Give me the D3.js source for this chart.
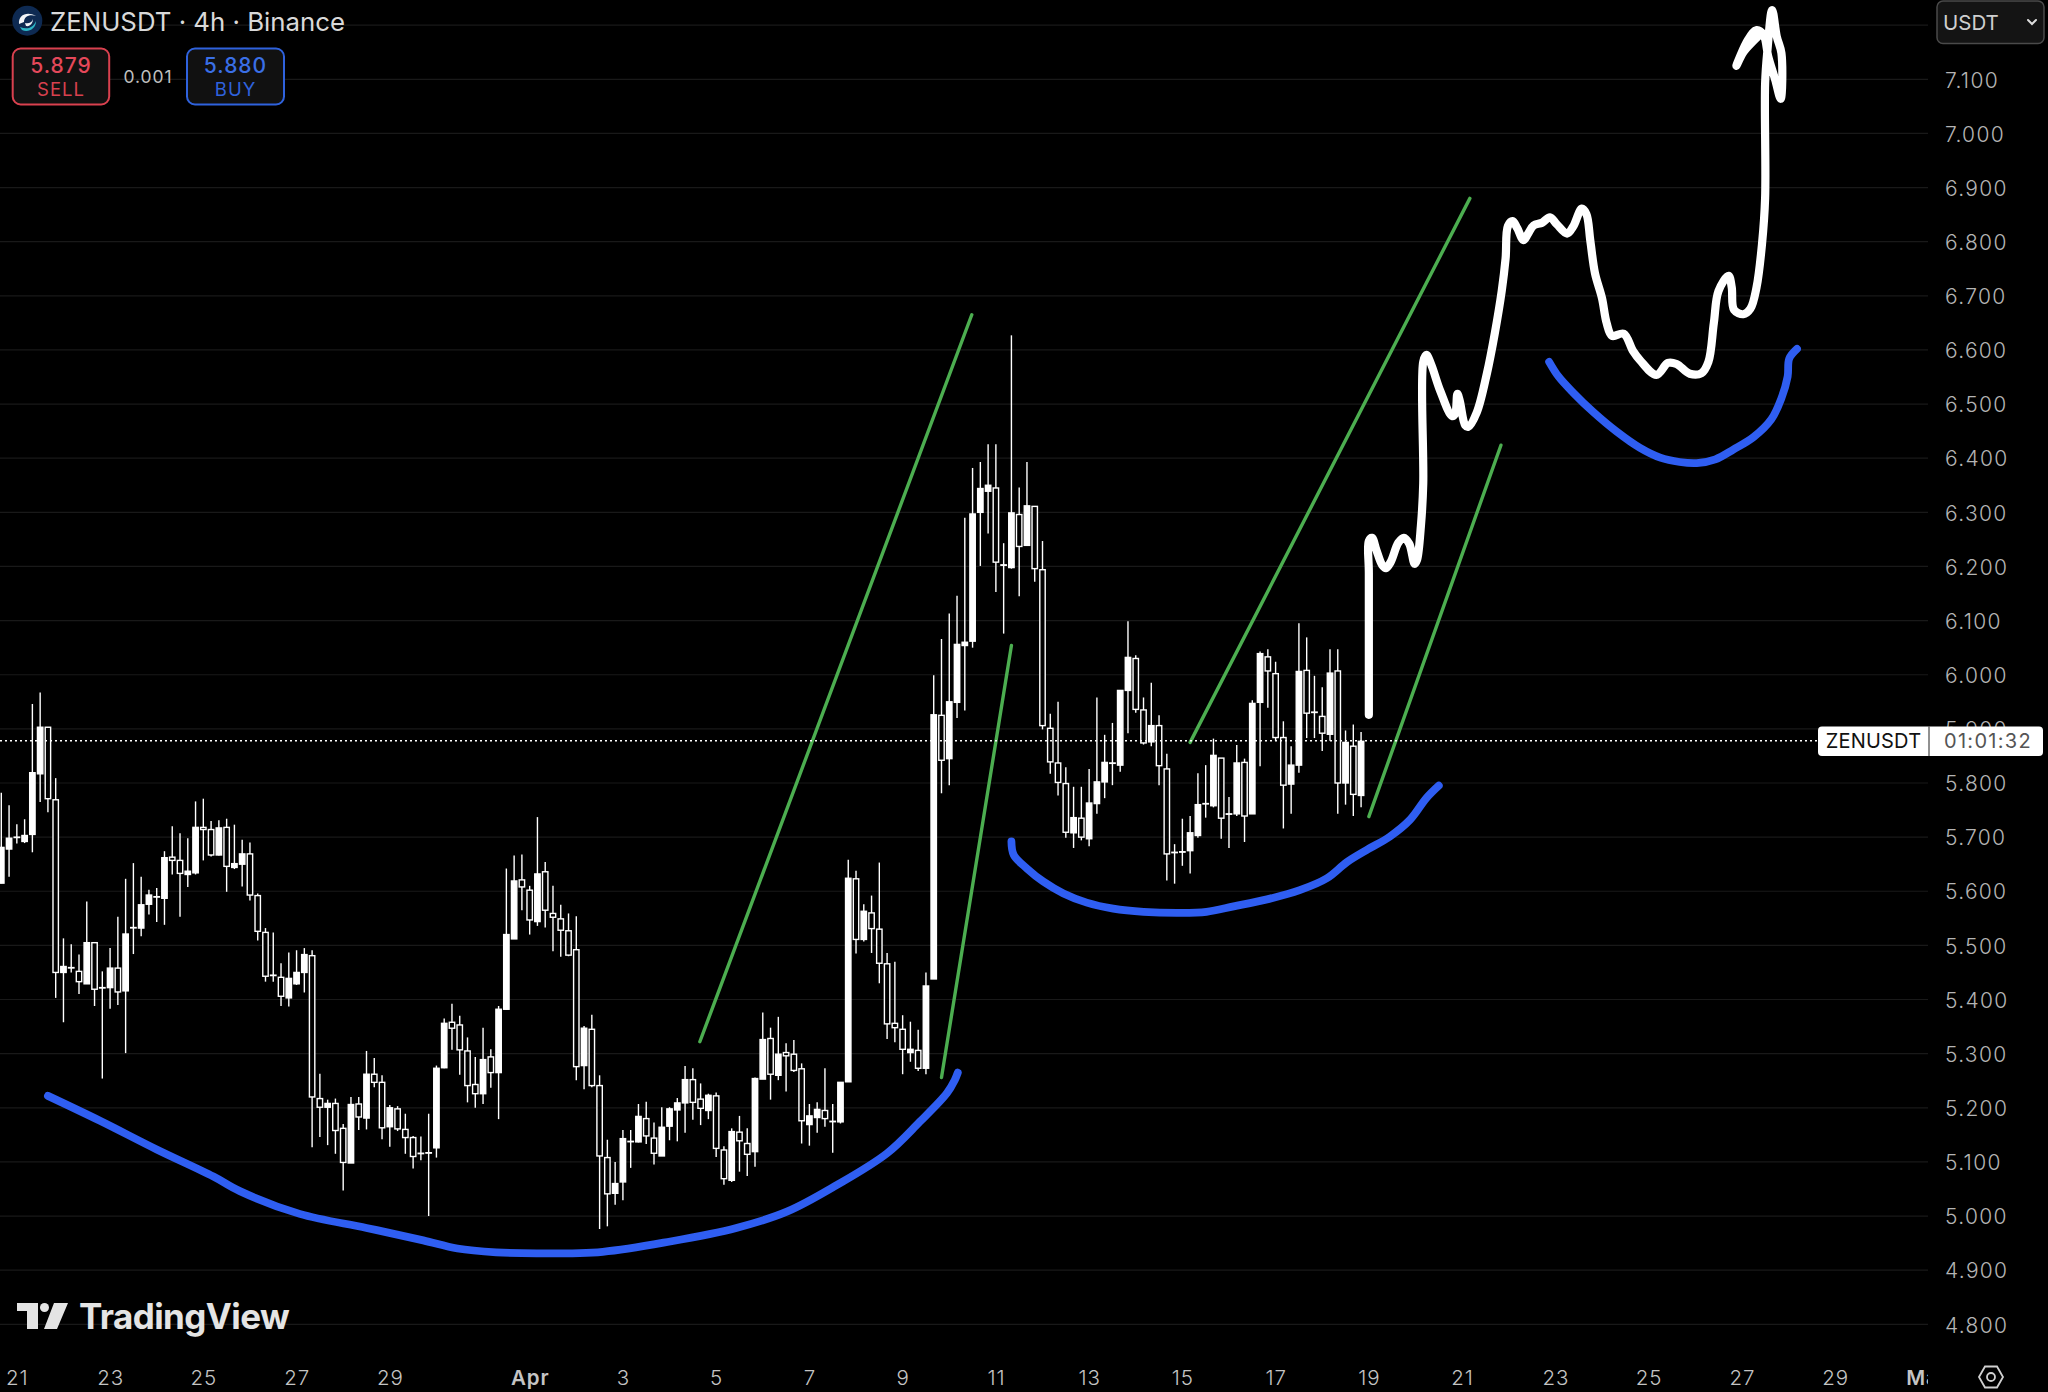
<!DOCTYPE html>
<html><head><meta charset="utf-8">
<style>html,body{margin:0;padding:0;background:#000;overflow:hidden}svg{display:block}</style>
<script src="https://cdn.jsdelivr.net/npm/d3@7/dist/d3.min.js"></script>
</head><body><svg id="c" width="2048" height="1392"></svg>
<script>
const open = [
5.615,5.678,5.700,5.692,5.705,5.817,5.903,5.769,5.450,5.459,
5.452,5.429,5.505,5.422,5.422,5.458,5.416,5.533,5.532,5.576,
5.590,5.587,5.663,5.657,5.631,5.634,5.718,5.714,5.667,5.718,
5.644,5.650,5.669,5.592,5.524,5.445,5.441,5.403,5.429,5.450,
5.481,5.217,5.201,5.208,5.162,5.098,5.207,5.181,5.262,5.247,
5.165,5.198,5.160,5.145,5.116,5.117,5.126,5.274,5.358,5.353,
5.305,5.243,5.226,5.294,5.265,5.382,5.512,5.621,5.602,5.544,
5.636,5.559,5.549,5.527,5.492,5.278,5.345,5.241,5.108,5.042,
5.063,5.138,5.137,5.180,5.144,5.111,5.166,5.196,5.209,5.252,
5.216,5.195,5.222,5.122,5.066,5.155,5.134,5.119,5.253,5.328,
5.260,5.302,5.299,5.272,5.169,5.182,5.195,5.175,5.174,5.248,
5.623,5.511,5.560,5.530,5.466,5.356,5.345,5.302,5.306,5.273,
5.438,5.925,5.845,5.949,6.054,6.062,6.300,6.339,6.345,6.203,
6.198,6.296,6.239,6.311,6.194,5.901,5.837,5.799,5.708,5.735,
5.697,5.762,5.802,5.837,5.833,5.971,6.030,5.935,5.876,5.906,
5.826,5.672,5.673,5.675,5.703,5.762,5.758,5.846,5.743,5.743,
5.838,5.743,5.949,6.033,6.002,5.884,5.798,5.833,6.008,5.931,
5.923,5.890,6.007,5.800,5.868,5.777];
const high = [
5.782,5.759,5.724,5.733,5.946,5.967,5.903,5.809,5.513,5.502,
5.483,5.581,5.505,5.452,5.495,5.553,5.623,5.652,5.627,5.603,
5.606,5.674,5.720,5.707,5.698,5.766,5.771,5.730,5.731,5.734,
5.723,5.695,5.690,5.596,5.532,5.524,5.467,5.487,5.491,5.495,
5.491,5.263,5.215,5.217,5.170,5.220,5.220,5.305,5.292,5.260,
5.205,5.203,5.189,5.148,5.147,5.189,5.278,5.365,5.392,5.370,
5.330,5.294,5.348,5.308,5.388,5.642,5.666,5.668,5.610,5.737,
5.654,5.610,5.575,5.559,5.554,5.351,5.372,5.260,5.141,5.100,
5.159,5.159,5.207,5.211,5.173,5.201,5.201,5.218,5.277,5.273,
5.245,5.226,5.228,5.129,5.162,5.185,5.162,5.256,5.376,5.348,
5.368,5.319,5.325,5.282,5.207,5.210,5.273,5.207,5.247,5.658,
5.638,5.576,5.592,5.653,5.486,5.470,5.371,5.359,5.344,5.450,
5.999,6.066,6.113,6.146,6.290,6.382,6.393,6.426,6.426,6.243,
6.627,6.346,6.393,6.311,6.247,5.928,5.950,5.829,5.793,5.793,
5.826,5.958,5.889,5.911,5.971,6.099,6.036,5.958,5.985,5.925,
5.854,5.687,5.734,5.739,5.818,5.833,5.882,5.846,5.774,5.870,
5.845,5.953,6.043,6.047,6.024,5.914,5.868,6.095,6.069,5.998,
5.977,6.047,6.047,5.897,5.908,5.894];
const low = [
5.615,5.627,5.688,5.689,5.672,5.765,5.746,5.403,5.358,5.450,
5.410,5.429,5.388,5.254,5.383,5.390,5.301,5.484,5.517,5.557,
5.543,5.538,5.631,5.553,5.608,5.631,5.657,5.664,5.666,5.599,
5.641,5.609,5.583,5.509,5.433,5.433,5.388,5.387,5.427,5.413,
5.127,5.146,5.131,5.115,5.047,5.098,5.159,5.160,5.238,5.142,
5.128,5.157,5.115,5.088,5.103,5.000,5.108,5.273,5.307,5.261,
5.210,5.200,5.207,5.237,5.179,5.382,5.512,5.565,5.520,5.536,
5.533,5.489,5.479,5.480,5.251,5.234,5.238,4.976,4.981,5.021,
5.029,5.089,5.136,5.133,5.095,5.111,5.140,5.138,5.154,5.178,
5.168,5.179,5.109,5.058,5.063,5.082,5.074,5.091,5.253,5.215,
5.251,5.230,5.266,5.134,5.130,5.154,5.165,5.117,5.171,5.248,
5.485,5.507,5.486,5.430,5.327,5.321,5.262,5.285,5.268,5.262,
5.438,5.781,5.796,5.920,5.934,6.050,6.201,6.261,6.153,6.076,
6.196,6.145,6.239,6.172,5.899,5.817,5.777,5.699,5.680,5.694,
5.683,5.743,5.772,5.796,5.821,5.892,5.930,5.871,5.868,5.796,
5.620,5.614,5.647,5.633,5.699,5.736,5.755,5.697,5.680,5.739,
5.691,5.743,5.831,5.939,5.878,5.716,5.743,5.819,5.883,5.883,
5.859,5.878,5.743,5.760,5.739,5.755];
const close = [
5.681,5.698,5.700,5.703,5.819,5.903,5.771,5.450,5.461,5.459,
5.433,5.505,5.419,5.422,5.458,5.414,5.521,5.533,5.575,5.593,
5.590,5.662,5.657,5.633,5.637,5.718,5.714,5.667,5.717,5.646,
5.651,5.669,5.593,5.526,5.443,5.445,5.406,5.439,5.450,5.483,
5.220,5.201,5.208,5.158,5.099,5.206,5.183,5.262,5.247,5.163,
5.200,5.161,5.145,5.110,5.116,5.117,5.273,5.356,5.347,5.307,
5.241,5.226,5.289,5.265,5.382,5.520,5.619,5.608,5.547,5.632,
5.565,5.552,5.528,5.482,5.276,5.347,5.241,5.111,5.041,5.060,
5.143,5.138,5.184,5.148,5.116,5.164,5.198,5.209,5.252,5.210,
5.199,5.223,5.125,5.069,5.156,5.139,5.114,5.254,5.326,5.262,
5.299,5.296,5.269,5.176,5.185,5.197,5.180,5.175,5.247,5.624,
5.511,5.563,5.531,5.467,5.355,5.348,5.308,5.308,5.273,5.425,
5.926,5.842,5.950,6.056,6.060,6.297,6.344,6.350,6.208,6.203,
6.299,6.237,6.312,6.196,5.906,5.839,5.801,5.709,5.736,5.700,
5.763,5.802,5.838,5.837,5.971,6.032,5.936,5.874,5.906,5.832,
5.669,5.672,5.673,5.708,5.760,5.762,5.851,5.735,5.743,5.837,
5.739,5.947,6.039,6.007,5.884,5.796,5.833,6.006,5.929,5.931,
5.892,6.003,5.800,5.875,5.779,5.877];

const priceTicks = d3.range(48, 72).map(v => v / 10);
const gridPrices = d3.range(48, 73).map(v => v / 10);
const dateIndex = [2,14,26,38,50,68,80,92,104,116,128,140,152,164,176,188,200,212,224,236,248];
const dateLabels = ["21","23","25","27","29","Apr","3","5","7","9","11","13","15","17","19","21","23","25","27","29","May"];
const boldLabels = ["Apr","May"];
const lastPrice = 5.88;

const greenLines = [
 [[89.9,5.322],[124.9,6.665]],
 [[121.0,5.256],[130.0,6.054]],
 [[153.0,5.875],[189.0,6.880]],
 [[176.0,5.738],[193.0,6.424]]
];
const blueCurveA = [[6.0,5.222],[12.7,5.176],[20.0,5.123],[27.3,5.073],[30.7,5.046],[38.4,5.004],[47.0,4.978],[54.3,4.955],[58.7,4.940],[63.7,4.933],[68.9,4.931],[77.4,4.934],[86.1,4.953],[94.6,4.978],[101.1,5.008],[107.5,5.057],[114.0,5.116],[118.2,5.174],[121.7,5.227],[122.7,5.251],[123.1,5.265]];
const blueCurveB = [[130.0,5.692],[130.3,5.667],[132.0,5.642],[134.1,5.618],[136.7,5.596],[139.7,5.579],[143.1,5.568],[147.0,5.562],[151.7,5.560],[155.1,5.562],[158.6,5.572],[162.9,5.585],[167.1,5.602],[170.6,5.624],[173.2,5.654],[175.7,5.676],[178.7,5.701],[181.3,5.732],[183.4,5.772],[185.0,5.795]];
const blueCurveC = [[199.2,6.578],[200.4,6.551],[202.3,6.521],[204.9,6.485],[207.9,6.449],[210.9,6.419],[213.5,6.401],[216.0,6.393],[218.2,6.391],[220.6,6.398],[222.9,6.416],[225.5,6.439],[227.8,6.472],[229.1,6.511],[229.9,6.551],[230.1,6.584],[231.1,6.602]];
const whiteProjection = [[176.0,5.926],[176.0,6.188],[176.0,6.247],[176.4,6.253],[177.0,6.229],[177.7,6.203],[178.2,6.197],[178.8,6.208],[179.8,6.244],[180.5,6.253],[181.2,6.242],[181.9,6.205],[182.2,6.212],[182.7,6.275],[183.0,6.353],[183.0,6.578],[183.4,6.591],[184.0,6.574],[185.2,6.524],[186.7,6.478],[187.1,6.482],[187.4,6.519],[187.7,6.506],[188.4,6.461],[188.8,6.458],[189.9,6.485],[191.2,6.557],[192.2,6.630],[193.1,6.709],[193.6,6.769],[193.9,6.829],[194.5,6.838],[195.1,6.825],[195.9,6.803],[196.5,6.815],[197.2,6.830],[198.3,6.835],[199.3,6.845],[200.2,6.832],[201.5,6.815],[202.3,6.828],[203.4,6.861],[204.0,6.851],[204.5,6.802],[205.1,6.742],[206.0,6.696],[206.6,6.650],[207.3,6.626],[208.8,6.630],[210.0,6.598],[210.9,6.581],[213.0,6.554],[214.5,6.576],[215.6,6.574],[217.3,6.556],[218.8,6.557],[219.7,6.578],[220.4,6.650],[221.0,6.709],[222.3,6.737],[222.7,6.716],[223.0,6.674],[224.2,6.666],[225.1,6.676],[225.9,6.716],[226.6,6.796],[227.0,6.881],[227.0,7.093],[227.3,7.154],[227.9,7.228],[228.5,7.179],[229.1,7.148],[229.0,7.064],[228.3,7.099],[227.4,7.142],[226.8,7.182],[225.9,7.191],[224.8,7.173],[223.3,7.125],[224.2,7.150],[225.3,7.168],[226.0,7.178]];

const svg = d3.select("#c");
const W = 2048, H = 1392, plotRight = 1928;
const FONT = "Inter, Roboto, 'Noto Sans', sans-serif";
const x = d3.scaleLinear().domain([0, 248]).range([1.3, 1928.3]);
const y = d3.scaleLinear().domain([4.8, 7.1]).range([1324.3, 79.3]);

svg.append("rect").attr("width", W).attr("height", H).attr("fill", "#000");
const defs = svg.append("defs");
defs.append("clipPath").attr("id", "plot").append("rect").attr("x", 0).attr("y", 0).attr("width", plotRight).attr("height", 1352);

// grid
svg.append("g").selectAll("line").data(gridPrices).join("line")
  .attr("x1", 0).attr("x2", plotRight)
  .attr("y1", d => y(d)).attr("y2", d => y(d))
  .attr("stroke", "#191919").attr("stroke-width", 1.2);

// price axis
const yAxis = d3.axisRight(y).tickValues(priceTicks).tickFormat(d3.format(".3f")).tickSize(0).tickPadding(0);
const gy = svg.append("g").attr("transform", "translate(1945,1)").call(yAxis);
gy.select(".domain").remove();
gy.selectAll("text").attr("fill", "#b4b4b4").style("font-family", FONT).style("font-size", "21px").style("letter-spacing", "1.3px").style("font-weight", 300);

// date axis
const xAxis = d3.axisBottom(x).tickValues(dateIndex).tickFormat((d, i) => dateLabels[i]).tickSize(0).tickPadding(0);
const gx = svg.append("g").attr("clip-path", "url(#xclip)").attr("transform", "translate(0,1370.5)").call(xAxis);
defs.append("clipPath").attr("id", "xclip").append("rect").attr("x", 0).attr("y", -20).attr("width", plotRight).attr("height", 60);
gx.select(".domain").remove();
gx.selectAll("text").attr("fill", "#c4c4c4").style("font-family", FONT).style("font-size", "20.5px").style("letter-spacing", "0.9px")
  .style("font-weight", (d, i) => boldLabels.includes(dateLabels[i]) ? 600 : 300);

// candles
const idx = d3.range(open.length);
const candles = svg.append("g").attr("clip-path", "url(#plot)");
candles.selectAll("line.w").data(idx).join("line").attr("class", "w")
  .attr("x1", i => x(i)).attr("x2", i => x(i))
  .attr("y1", i => y(high[i])).attr("y2", i => y(low[i]))
  .attr("stroke", "#fff").attr("stroke-width", 1.4);
const bw = 5.4;
candles.selectAll("rect.b").data(idx).join("rect").attr("class", "b")
  .attr("x", i => x(i) - bw / 2).attr("width", bw)
  .attr("y", i => y(Math.max(open[i], close[i])))
  .attr("height", i => Math.max(0.4, Math.abs(y(open[i]) - y(close[i]))))
  .attr("fill", i => close[i] >= open[i] ? "#fff" : "#000")
  .attr("stroke", "#fff").attr("stroke-width", 1.4);

// drawings
const line = d3.line().x(d => x(d[0])).y(d => y(d[1])).curve(d3.curveCatmullRom.alpha(0.5));
const ink = svg.append("g").attr("fill", "none").attr("stroke-linecap", "round").attr("stroke-linejoin", "round");
ink.selectAll("path.g").data(greenLines).join("path").attr("class", "g").attr("d", line)
  .attr("stroke", "#4cae50").attr("stroke-width", 3.4);
ink.selectAll("path.bl").data([blueCurveA, blueCurveB, blueCurveC]).join("path").attr("class", "bl").attr("d", line)
  .attr("stroke", "#2f5ef2").attr("stroke-width", 7.8);
ink.append("path").datum(whiteProjection).attr("d", line).attr("stroke", "#fff").attr("stroke-width", 8.2);

// last price dotted line
svg.append("line").attr("x1", 0).attr("x2", 1820).attr("y1", y(lastPrice) + 1).attr("y2", y(lastPrice) + 1)
  .attr("stroke", "#fff").attr("stroke-width", 1.5).attr("stroke-dasharray", "2 3");

// price tag
const tagY = 726.5;
svg.append("rect").attr("x", 1818).attr("y", tagY).attr("width", 225).attr("height", 29.5).attr("rx", 4).attr("fill", "#fff");
svg.append("line").attr("x1", 1929).attr("x2", 1929).attr("y1", tagY).attr("y2", tagY + 29.5).attr("stroke", "#222").attr("stroke-width", 1);
const txt = (s, px, py, size, fill, anchor = "start", weight = 400, ls = 0) => svg.append("text").text(s)
  .attr("x", px).attr("y", py).attr("fill", fill).attr("text-anchor", anchor)
  .style("font-family", FONT).style("font-size", size + "px").style("font-weight", weight).style("letter-spacing", ls + "px");
txt("ZENUSDT", 1873.5, 748, 20, "#111", "middle", 400, 0.2);
txt("01:01:32", 1988, 748, 20, "#555", "middle", 400, 1.3);

// header
svg.append("circle").attr("cx", 27.3).attr("cy", 20.7).attr("r", 15).attr("fill", "#0e2a52");
svg.append("path").attr("d", "M19 24 C18 15 27 11 36 16 C29 14 24 17 24 22 Z").attr("fill", "#f2f5f8");
svg.append("path").attr("d", "M20 27 C27 30 33 28 36 21 C36 29 28 33 22 30 Z").attr("fill", "#2db6c6");
svg.append("path").attr("d", "M25 23 C28 24 32 23 33 19 C33 23 30 27 26 26 Z").attr("fill", "#f2f5f8");
txt("ZENUSDT · 4h · Binance", 50, 31, 25.8, "#d9d9d9");

svg.append("rect").attr("x", 12.7).attr("y", 48.5).attr("width", 96.5).attr("height", 56).attr("rx", 8).attr("fill", "#111").attr("stroke", "#d9414f").attr("stroke-width", 2);
svg.append("rect").attr("x", 187).attr("y", 48.5).attr("width", 97).attr("height", 56).attr("rx", 8).attr("fill", "#111").attr("stroke", "#2f62dd").attr("stroke-width", 2);
txt("5.879", 61, 72.5, 21, "#e5485a", "middle", 500, 1);
txt("SELL", 61, 96, 18.5, "#d9414f", "middle", 400, 1);
txt("0.001", 148, 82.5, 17.5, "#c0c0c0", "middle", 400, 0.9);
txt("5.880", 235.5, 72.5, 21, "#3a6fe6", "middle", 500, 1);
txt("BUY", 235.5, 96, 18.5, "#2f62dd", "middle", 400, 1);

// currency selector
svg.append("rect").attr("x", 1937).attr("y", 1).attr("width", 107).attr("height", 42.5).attr("rx", 6).attr("fill", "#141414").attr("stroke", "#4a4a4a").attr("stroke-width", 1.5);
txt("USDT", 1943, 30, 20.5, "#cfcfcf");
svg.append("path").attr("d", "M2028 20 L2032 24 L2036 20").attr("fill", "none").attr("stroke", "#ddd").attr("stroke-width", 2).attr("stroke-linecap", "round");

// watermark
svg.append("path").attr("fill", "#e4e4e4").attr("d", "M17 1303 H38 V1329 H27 V1311 H17 Z M54 1303 H68 L57 1329 H44 Z");
svg.append("circle").attr("cx", 44.5).attr("cy", 1307.5).attr("r", 4.5).attr("fill", "#e4e4e4");
txt("TradingView", 79, 1329, 35, "#e4e4e4", "start", 700, -0.6);

// settings hexagon
svg.append("path").attr("fill", "none").attr("stroke", "#d0d0d0").attr("stroke-width", 1.8)
  .attr("d", "M1979 1377 L1985 1366.5 H1997 L2003 1377 L1997 1387.5 H1985 Z");
svg.append("circle").attr("cx", 1991).attr("cy", 1377).attr("r", 4).attr("fill", "none").attr("stroke", "#d0d0d0").attr("stroke-width", 1.8);
</script></body></html>
